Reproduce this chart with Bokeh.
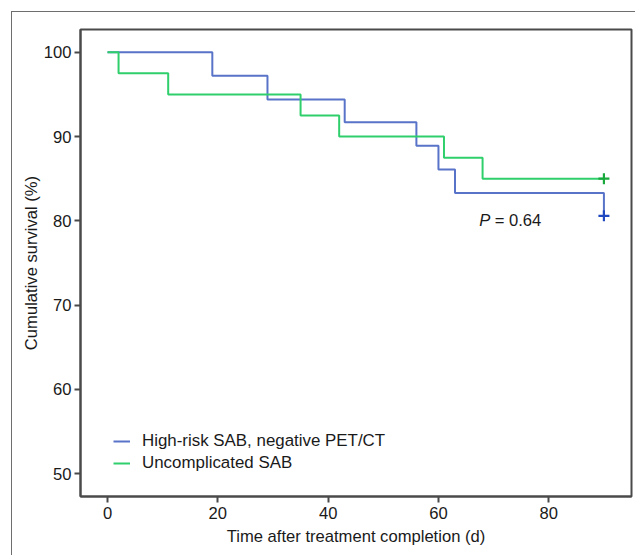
from bokeh.plotting import figure
from bokeh.models import Range1d, FixedTicker, Legend, LegendItem
from bokeh.core.properties import value
from bokeh.embed import file_html
from bokeh.resources import INLINE

# ---- data ----
high_risk_days = [0, 19, 29, 43, 56, 60, 63, 90]
high_risk_surv = [100, 97.2, 94.4, 91.7, 88.9, 86.1, 83.3, 80.6]
uncomp_days = [0, 2, 11, 35, 42, 61, 68, 90]
uncomp_surv = [100, 97.5, 95.0, 92.5, 90.0, 87.5, 85.0, 85.0]
high_risk_censor_day = [90]
high_risk_censor_surv = [80.6]
uncomp_censor_day = [90]
uncomp_censor_surv = [85.0]
x_ticks = [0, 20, 40, 60, 80]
y_ticks = [50, 60, 70, 80, 90, 100]
series_labels = ["High-risk SAB, negative PET/CT", "Uncomplicated SAB"]
p_value_label = "= 0.64"

FONT = "Liberation Sans"
FS = "16.6px"
BLUE = "#5873c8"
GREEN = "#2fcf6c"
BLUE_DARK = "#2048c0"
GREEN_DARK = "#18a83c"
FRAME = "#4a4a4a"

p = figure(width=624, height=544, output_backend="svg", toolbar_location=None,
           x_range=Range1d(-4.9, 95.0), y_range=Range1d(47.3, 102.7),
           min_border_left=68, min_border_right=5, min_border_top=17, min_border_bottom=60,
           styles={"margin-left": "11px", "margin-top": "11px",
                   "border-left": "1.5px solid #6e6e6e", "border-top": "1.5px solid #6e6e6e"})
p.background_fill_color = "white"
p.border_fill_color = "white"
p.outline_line_color = FRAME
p.outline_line_width = 2
p.xgrid.visible = False
p.ygrid.visible = False

for ax in (p.xaxis[0], p.yaxis[0]):
    ax.axis_line_color = FRAME
    ax.axis_line_width = 2
    ax.major_tick_line_color = FRAME
    ax.major_tick_line_width = 2
    ax.major_tick_in = 0
    ax.major_tick_out = 6
    ax.minor_tick_line_color = None
    ax.major_label_text_font = FONT
    ax.major_label_text_font_size = FS
    ax.major_label_text_color = "#1a1a1a"
    ax.axis_label_text_font = FONT
    ax.axis_label_text_font_size = FS
    ax.axis_label_text_font_style = "normal"
    ax.axis_label_text_color = "#1a1a1a"

p.xaxis.ticker = FixedTicker(ticks=x_ticks)
p.yaxis.ticker = FixedTicker(ticks=y_ticks)
p.xaxis.axis_label = "Time after treatment completion (d)"
p.yaxis.axis_label = "Cumulative survival (%)"
p.xaxis.major_label_standoff = 4
p.yaxis.major_label_standoff = 3
p.xaxis.axis_label_standoff = 5
p.yaxis.axis_label_standoff = 0

r_blue = p.step(high_risk_days, high_risk_surv, mode="after", line_color=BLUE, line_width=2)
r_green = p.step(uncomp_days, uncomp_surv, mode="after", line_color=GREEN, line_width=2)
p.scatter(high_risk_censor_day, high_risk_censor_surv, marker="cross", size=11,
          line_color=BLUE_DARK, line_width=2.2)
p.scatter(uncomp_censor_day, uncomp_censor_surv, marker="cross", size=11,
          line_color=GREEN_DARK, line_width=2.2)

p.text(x=[67.4], y=[80.1], text=["P"], text_font=value(FONT), text_font_size=FS,
       text_font_style="italic", text_baseline="middle", text_align="left", text_color="#1a1a1a")
p.text(x=[70.2], y=[80.1], text=[p_value_label], text_font=value(FONT), text_font_size=FS,
       text_baseline="middle", text_align="left", text_color="#1a1a1a")

legend = Legend(items=[LegendItem(label=series_labels[0], renderers=[r_blue]),
                       LegendItem(label=series_labels[1], renderers=[r_green])],
                location=(33, 23), padding=0, margin=0, spacing=2,
                glyph_width=17, glyph_height=20, label_height=20, label_standoff=12,
                label_text_font=FONT, label_text_font_size="16.9px", label_text_color="#1a1a1a",
                border_line_color=None, background_fill_alpha=0)
p.add_layout(legend)

open("out.html", "w").write(file_html(p, INLINE))
